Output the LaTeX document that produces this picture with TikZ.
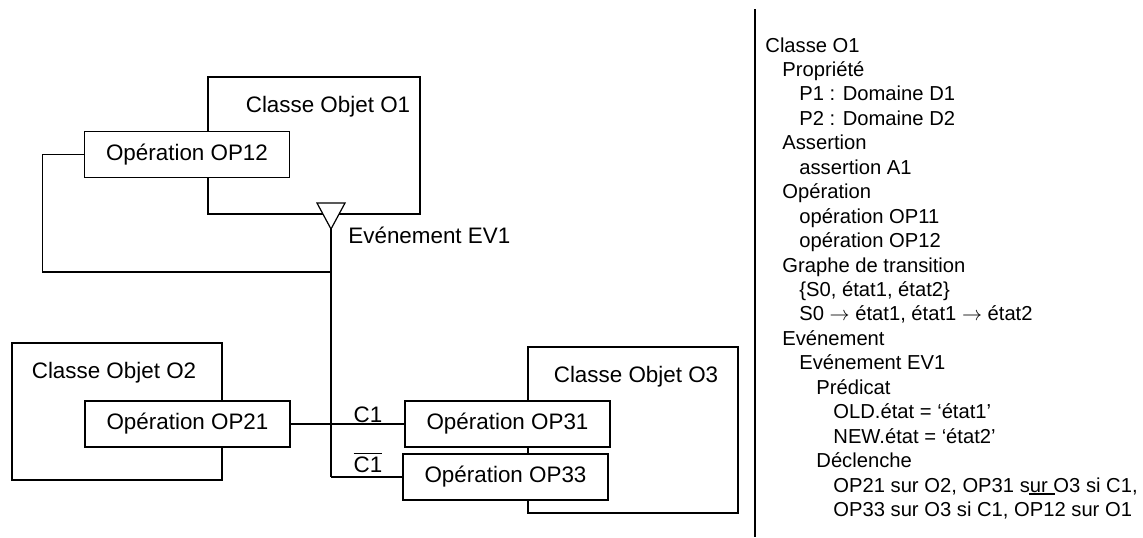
\documentclass[tikz,border=0pt]{standalone}
\usepackage{fontspec}
\setmainfont{Liberation Sans}
\usetikzlibrary{positioning}

\tikzset{
  classbox/.style={rectangle, draw, line width=0.65pt, inner sep=0pt},
  opbox/.style={rectangle, draw, fill=white, line width=0.65pt, minimum width=102.5pt, minimum height=23pt, inner sep=0pt},
  title/.style={anchor=base, inner sep=0pt},
  descr/.style={anchor=base west, inner sep=0pt, font=\fontsize{10.1}{12}\selectfont},
  link/.style={line width=0.6pt},
  trunk/.style={line width=1pt}
}

\begin{document}
\begin{tikzpicture}[x=0.5pt, y=-0.5pt, font=\fontsize{11.2}{12.2}\selectfont]
  \useasboundingbox (0,0) rectangle (1143,537);

  % class boxes
  \node[classbox, minimum width=106pt, minimum height=68.5pt] (o1) at (314,145.5) {};
  \node[classbox, minimum width=105pt, minimum height=68.5pt] (o2) at (117,411.5) {};
  \node[classbox, minimum width=105pt, minimum height=83pt] (o3) at (633,430) {};
  \node[title] (o1t) at (328,112) {Classe Objet O1};
  \node[title] (o2t) at (114,378) {Classe Objet O2};
  \node[title] (o3t) at (636,382) {Classe Objet O3};

  % operations
  \node[opbox] (op12) at (187,154.5) {Opération OP12};
  \node[opbox] (op21) at (187.5,424) {Opération OP21};
  \node[opbox] (op31) at (507.5,424) {Opération OP31};
  \node[opbox] (op33) at (505.5,477) {Opération OP33};

  % event EV1
  \coordinate (ev) at (331,229);
  \coordinate (j1) at (331,272);
  \coordinate (j3) at (ev |- op33.west);
  \draw[link] (op12.west) -- ++(-41,0) |- (j1);
  \draw[trunk] (ev) -- (j3);
  \draw[link] (j3) -- (op33.west);
  \draw[link] (op21.east) -- (op31.west);
  \draw[link, fill=white] (317,203) -- (345,203) -- (ev) -- cycle;
  \node[anchor=base west, inner sep=0pt] (evt) at (348,243) {Evénement EV1};

  \node[title] (c1) at (368,422) {C1};
  \node[title] (c1bar) at (368,472) {$\overline{\mbox{C1}}$};

  % textual description
  \draw[line width=0.65pt] (755,9) -- (755,537);
  \foreach \lvl/\txt [count=\i from 0] in {0/Classe O1, 1/Propriété, 2/P1 : Domaine D1,
      2/P2 : Domaine D2, 1/Assertion, 2/assertion A1, 1/Opération, 2/opération OP11,
      2/opération OP12, 1/Graphe de transition, 2/{\{S0, état1, état2\}},
      2/{S0 $\rightarrow$ état1, état1 $\rightarrow$ état2}, 1/Evénement,
      2/Evénement EV1, 3/Prédicat, 4/OLD.état = ‘état1’, 4/NEW.état = ‘état2’,
      3/Déclenche, 4/{OP21 sur O2, OP31 sur O3 si C1,}, 4/{OP33 sur O3 si C1, OP12 sur O1}}
    \node[descr] (line\i) at (765+17*\lvl, 52+24.45*\i) {\txt};
  \draw[line width=0.6pt] (1029,494) -- (1055,494);
\end{tikzpicture}
\end{document}
